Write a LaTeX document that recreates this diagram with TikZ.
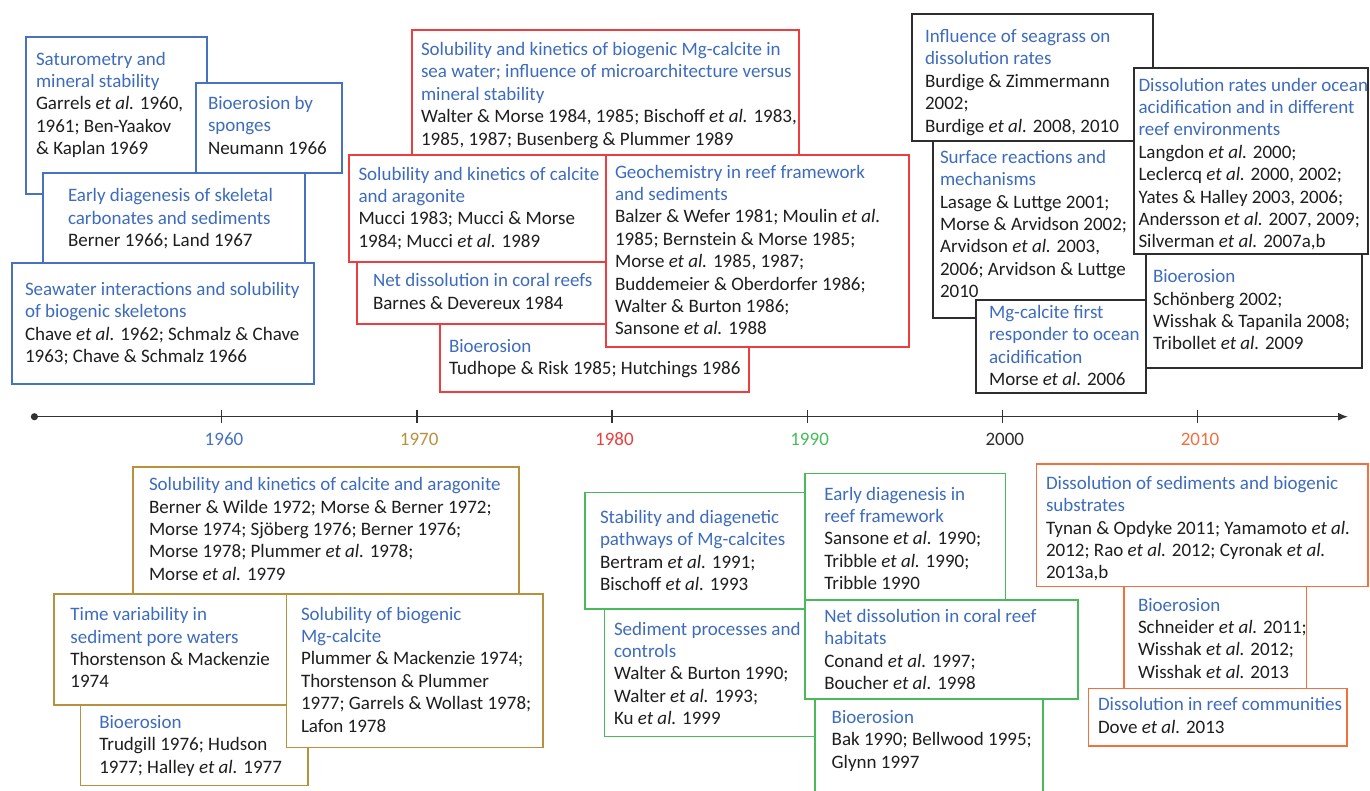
\documentclass[tikz,border=0pt]{standalone}
\usepackage{fontspec}
\setmainfont{Carlito}
\usetikzlibrary{arrows.meta}
\definecolor{cblue}{RGB}{70,114,192}
\definecolor{tblue}{RGB}{62,108,188}
\definecolor{cred}{RGB}{236,62,62}
\definecolor{cgold}{RGB}{184,145,62}
\definecolor{cgreen}{RGB}{72,186,90}
\definecolor{cblack}{RGB}{45,45,45}
\definecolor{corange}{RGB}{242,112,62}
\definecolor{body}{RGB}{30,30,30}
\definecolor{axcol}{RGB}{50,50,50}
\newcommand\bt[1]{\textcolor{tblue}{#1}}
\newcommand\etl{\textit{et al.}}
\tikzset{
  boxst/.style={rectangle, anchor=north west, fill=white, line width=1.3pt, inner sep=0pt, outer sep=0pt},
  txtst/.style={anchor=north west, inner sep=0pt, outer sep=0pt, align=left, text=body,
    font=\fontsize{19}{22.4}\selectfont},
  yearst/.style={anchor=base, inner sep=0pt, font=\fontsize{19}{22.4}\selectfont},
  tickst/.style={line width=1.4pt, draw=axcol}
}
\newcommand\tlbox[9]{%
  \node[boxst, draw=#2, minimum width={#5-#3}, minimum height={#6-#4}] (#1) at (#3,#4) {};
  \node[txtst] (#1-t) at (#7,#8-15.68) {#9};
}
\begin{document}
\begin{tikzpicture}[x=1pt,y=-1pt]
\useasboundingbox (0,0) rectangle (1370,790);
% ---------- 1960s (blue)
\tlbox{b1}{cblue}{26}{37}{207}{194}{36}{65}{\strut\bt{Saturometry and}\\\bt{mineral stability}\\Garrels \etl{} 1960,\\1961; Ben-Yaakov\\\& Kaplan 1969}
\tlbox{b2}{cblue}{196}{83}{342}{173}{208}{109.3}{\strut\bt{Bioerosion by}\\\bt{sponges}\\Neumann 1966}
\tlbox{b3}{cblue}{43}{173}{305}{263}{68}{201.7}{\strut\bt{Early diagenesis of skeletal}\\\bt{carbonates and sediments}\\Berner 1966; Land 1967}
\tlbox{b4}{cblue}{12}{263}{314}{384}{25}{295.5}{\strut\bt{Seawater interactions and solubility}\\\bt{of biogenic skeletons}\\Chave \etl{} 1962; Schmalz \& Chave\\1963; Chave \& Schmalz 1966}
% ---------- 1980s (red)
\tlbox{r1}{cred}{412}{30}{799}{165}{421}{55.5}{\strut\bt{Solubility and kinetics of biogenic Mg-calcite in}\\\bt{sea water; influence of microarchitecture versus}\\\bt{mineral stability}\\Walter \& Morse 1984, 1985; Bischoff \etl{} 1983,\\1985, 1987; Busenberg \& Plummer 1989}
\tlbox{r5}{cred}{440}{324}{749}{392}{449}{352.5}{\strut\bt{Bioerosion}\\Tudhope \& Risk 1985; Hutchings 1986}
\tlbox{r2}{cred}{349}{155}{612}{262}{358.5}{180}{\strut\bt{Solubility and kinetics of calcite}\\\bt{and aragonite}\\Mucci 1983; Mucci \& Morse\\1984; Mucci \etl{} 1989}
\tlbox{r3}{cred}{357}{262}{612}{324}{373}{286.7}{\strut\bt{Net dissolution in coral reefs}\\Barnes \& Devereux 1984}
\tlbox{r4}{cred}{606}{155}{909}{347}{615}{178}{\strut\bt{Geochemistry in reef framework}\\\bt{and sediments}\\Balzer \& Wefer 1981; Moulin \etl\\1985; Bernstein \& Morse 1985;\\Morse \etl{} 1985, 1987;\\Buddemeier \& Oberdorfer 1986;\\Walter \& Burton 1986;\\Sansone \etl{} 1988}
% ---------- 2000s (black)
\tlbox{k1}{cblack}{912}{14}{1153}{141}{925}{42.5}{\strut\bt{Influence of seagrass on}\\\bt{dissolution rates}\\Burdige \& Zimmermann\\2002;\\Burdige \etl{} 2008, 2010}
\tlbox{k2}{cblack}{933}{141}{1150}{318}{940}{163.3}{\strut\bt{Surface reactions and}\\\bt{mechanisms}\\Lasage \& Luttge 2001;\\Morse \& Arvidson 2002;\\Arvidson \etl{} 2003,\\2006; Arvidson \& Luttge\\2010}
\tlbox{k3}{cblack}{1134}{68}{1368}{254}{1138.5}{91}{\strut\bt{Dissolution rates under ocean}\\\bt{acidification and in different}\\\bt{reef environments}\\Langdon \etl{} 2000;\\Leclercq \etl{} 2000, 2002;\\Yates \& Halley 2003, 2006;\\Andersson \etl{} 2007, 2009;\\Silverman \etl{} 2007a,b}
\tlbox{k4}{cblack}{1146}{254}{1362}{368}{1153}{282.7}{\strut\bt{Bioerosion}\\Schönberg 2002;\\Wisshak \& Tapanila 2008;\\Tribollet \etl{} 2009}
\tlbox{k5}{cblack}{976}{300}{1146}{393}{989}{318.5}{\strut\bt{Mg-calcite first}\\\bt{responder to ocean}\\\bt{acidification}\\Morse \etl{} 2006}
% ---------- 1970s (gold)
\tlbox{g1}{cgold}{133}{467}{519}{600}{149}{490.7}{\strut\bt{Solubility and kinetics of calcite and aragonite}\\Berner \& Wilde 1972; Morse \& Berner 1972;\\Morse 1974; Sjöberg 1976; Berner 1976;\\Morse 1978; Plummer \etl{} 1978;\\Morse \etl{} 1979}
\tlbox{g2}{cgold}{54}{594}{300}{705}{70.4}{620.7}{\strut\bt{Time variability in}\\\bt{sediment pore waters}\\Thorstenson \& Mackenzie\\1974}
\tlbox{g4}{cgold}{80.5}{705}{308}{785.5}{99.3}{728.3}{\strut\bt{Bioerosion}\\Trudgill 1976; Hudson\\1977; Halley \etl{} 1977}
\tlbox{g3}{cgold}{286.4}{594}{543}{747.5}{301}{620}{\strut\bt{Solubility of biogenic}\\\bt{Mg-calcite}\\Plummer \& Mackenzie 1974;\\Thorstenson \& Plummer\\1977; Garrels \& Wollast 1978;\\Lafon 1978}
% ---------- 1990s (green)
\tlbox{n1}{cgreen}{585}{492.5}{810}{609}{600}{523.3}{\strut\bt{Stability and diagenetic}\\\bt{pathways of Mg-calcites}\\Bertram \etl{} 1991;\\Bischoff \etl{} 1993}
\tlbox{n2}{cgreen}{805}{473.5}{1005.7}{600}{824.3}{500}{\strut\bt{Early diagenesis in}\\\bt{reef framework}\\Sansone \etl{} 1990;\\Tribble \etl{} 1990;\\Tribble 1990}
\tlbox{n3}{cgreen}{604.7}{609}{820}{736.5}{614}{635}{\strut\bt{Sediment processes and}\\\bt{controls}\\Walter \& Burton 1990;\\Walter \etl{} 1993;\\Ku \etl{} 1999}
\tlbox{n4}{cgreen}{805}{600}{1078}{699}{824.3}{622.3}{\strut\bt{Net dissolution in coral reef}\\\bt{habitats}\\Conand \etl{} 1997;\\Boucher \etl{} 1998}
\tlbox{n5}{cgreen}{815}{699}{1043}{800}{831.7}{723.3}{\strut\bt{Bioerosion}\\Bak 1990; Bellwood 1995;\\Glynn 1997}
% ---------- 2010s (orange)
\tlbox{o1}{corange}{1036.7}{464}{1368}{586.7}{1046}{489.3}{\strut\bt{Dissolution of sediments and biogenic}\\\bt{substrates}\\Tynan \& Opdyke 2011; Yamamoto \etl\\2012; Rao \etl{} 2012; Cyronak \etl\\2013a,b}
\tlbox{o2}{corange}{1124}{586.7}{1306.7}{688.5}{1138}{611}{\strut\bt{Bioerosion}\\Schneider \etl{} 2011;\\Wisshak \etl{} 2012;\\Wisshak \etl{} 2013}
\tlbox{o3}{corange}{1088.7}{688.5}{1347}{746}{1098}{710.7}{\strut\bt{Dissolution in reef communities}\\Dove \etl{} 2013}
% ---------- time axis
\coordinate (axs) at (34.4,416.7);
\coordinate (axe) at (1348,416.7);
\draw[line width=1.4pt, draw=axcol, -{Latex[length=10pt,width=8pt]}] (axs) -- (axe);
\fill[axcol] (axs) circle (3.6);
\foreach \k/\yr/\col in {0/1960/cblue,1/1970/cgold,2/1980/cred,3/1990/cgreen,4/2000/cblack,5/2010/corange}{
  \coordinate (t\yr) at ({221.7+195.2*\k},416.7);
  \draw[tickst] ([yshift=-6.5pt]t\yr) -- ([yshift=6.5pt]t\yr);
  \node[yearst, text=\col] (y\yr) at ({224+195.2*\k},445.5) {\yr};
}
\end{tikzpicture}
\end{document}
